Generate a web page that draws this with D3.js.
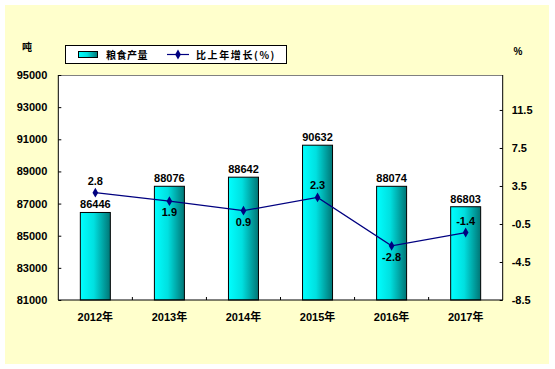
<!DOCTYPE html>
<html><head><meta charset="utf-8">
<script src="https://cdn.jsdelivr.net/npm/d3@7"></script>
<style>body{margin:0;background:#fff}svg{display:block}</style>
</head><body>
<script>
const categories = ["2012年","2013年","2014年","2015年","2016年","2017年"];
const output = [86446, 88076, 88642, 90632, 88074, 86803];
const growth = [2.8, 1.9, 0.9, 2.3, -2.8, -1.4];
const growthLabelPos = ["above","below","below","above","below","above"];
const leftTicks = [81000, 83000, 85000, 87000, 89000, 91000, 93000, 95000];
const rightTicks = [-8.5, -4.5, -0.5, 3.5, 7.5, 11.5];
const seriesNames = ["粮食产量", "比上年增长(%)"];
const leftUnit = "吨", rightUnit = "%";

const W = 555, H = 369;
const svg = d3.select("body").append("svg").attr("width", W).attr("height", H);
const font = "'Liberation Sans', Arial, 'Noto Sans CJK SC', sans-serif";
const cjk = "'Noto Sans CJK SC', sans-serif";

svg.append("rect").attr("x",5).attr("y",5).attr("width",544).attr("height",359).attr("fill","#FFFFCC");

const pl = 58.3, pr = 502.7, pt = 75, pb = 300;
svg.append("rect").attr("x",pl).attr("y",pt).attr("width",pr-pl).attr("height",pb-pt).attr("fill","#fff");
svg.append("line").attr("x1",pl).attr("x2",pr).attr("y1",pt+0.5).attr("y2",pt+0.5).attr("stroke","#808080");

const x = d3.scaleBand().domain(categories).range([pl, pr]).paddingInner(0).paddingOuter(0);
const yL = d3.scaleLinear().domain([81000, 95000]).range([pb, pt]);
const yR = d3.scaleLinear().domain([-8.5, 15.18]).range([pb, pt]);

const defs = svg.append("defs");
const g = defs.append("linearGradient").attr("id","barg").attr("x1","0").attr("x2","1").attr("y1","0").attr("y2","0");
g.append("stop").attr("offset","0").attr("stop-color","#00FFFF");
g.append("stop").attr("offset","0.45").attr("stop-color","#00E0E0");
g.append("stop").attr("offset","1").attr("stop-color","#007575");

const bw = 30;
svg.selectAll(".bar").data(output).join("rect")
  .attr("x",(d,i)=>x(categories[i]) + x.bandwidth()/2 - bw/2)
  .attr("y",d=>yL(d)).attr("width",bw).attr("height",d=>pb-yL(d))
  .attr("fill","url(#barg)").attr("stroke","#000").attr("stroke-width",1);

// axes
const axL = d3.axisLeft(yL).tickValues(leftTicks).tickSize(-3).tickPadding(11).tickFormat(d3.format("d"));
const gL = svg.append("g").attr("transform",`translate(${pl},0)`).call(axL);
const axR = d3.axisRight(yR).tickValues(rightTicks).tickSize(-3).tickPadding(9).tickFormat(d=>d.toFixed(1));
const gR = svg.append("g").attr("transform",`translate(${pr},0)`).call(axR);
const axB = d3.axisBottom(x).tickValues([]).tickSize(0);
const gB = svg.append("g").attr("transform",`translate(0,${pb})`).call(axB);
[gL,gR,gB].forEach(a=>{a.select(".domain").attr("stroke","#000");a.selectAll(".tick line").attr("stroke","#000");
  a.selectAll("text").attr("font-family",font).attr("font-size",11).attr("font-weight","bold").attr("fill","#000");});
gL.select(".domain").attr("d",`M0,${pt}V${pb}`);
gR.select(".domain").attr("d",`M0,${pt}V${pb}`);
gB.select(".domain").attr("d",`M${pl},0H${pr}`);
// category ticks inside
svg.selectAll(".ct").data(categories.slice(1)).join("line")
  .attr("x1",d=>x(d)).attr("x2",d=>x(d)).attr("y1",pb).attr("y2",pb-3).attr("stroke","#000");
svg.selectAll(".cl").data(categories).join("text")
  .attr("x",d=>x(d)+x.bandwidth()/2).attr("y",321).attr("text-anchor","middle")
  .attr("font-family",font).attr("font-size",11).attr("font-weight","bold").text(d=>d);

// line
const cx = i => x(categories[i]) + x.bandwidth()/2;
svg.append("path").datum(growth)
  .attr("d", d3.line().x((d,i)=>cx(i)).y(d=>yR(d)))
  .attr("fill","none").attr("stroke","#000080").attr("stroke-width",1.2);
const diamond = d3.symbol().type(d3.symbolDiamond).size(28);
svg.selectAll(".mk").data(growth).join("path")
  .attr("transform",(d,i)=>`translate(${cx(i)},${yR(d)})`).attr("d",diamond).attr("fill","#000080");

// labels
svg.selectAll(".bl").data(output).join("text")
  .attr("x",(d,i)=>cx(i)).attr("y",d=>yL(d)-4).attr("text-anchor","middle")
  .attr("font-family",font).attr("font-size",11).attr("font-weight","bold").text(d=>d);
svg.selectAll(".gl").data(growth).join("text")
  .attr("x",(d,i)=>cx(i)).attr("y",(d,i)=>yR(d) + (growthLabelPos[i]==="above" ? -8 : 15)).attr("text-anchor","middle")
  .attr("font-family",font).attr("font-size",11).attr("font-weight","bold").text(d=>d.toFixed(1));

// units
svg.append("text").attr("x",27).attr("y",51).attr("text-anchor","middle").attr("font-family",cjk).attr("font-size",10).attr("font-weight","bold").text(leftUnit);
svg.append("text").attr("x",518).attr("y",55).attr("text-anchor","middle").attr("font-family",font).attr("font-size",10).attr("font-weight","bold").text(rightUnit);

// legend
const lg = svg.append("g");
lg.append("rect").attr("x",65.5).attr("y",45.5).attr("width",221).attr("height",18).attr("fill","#fff").attr("stroke","#000");
lg.append("rect").attr("x",78.5).attr("y",51.5).attr("width",19).attr("height",6).attr("fill","url(#barg)").attr("stroke","#000");
lg.append("text").attr("x",106).attr("y",58.5).attr("font-family",cjk).attr("font-size",10).attr("font-weight","bold").attr("letter-spacing",0.5).text(seriesNames[0]);
lg.append("line").attr("x1",167).attr("x2",189).attr("y1",54.5).attr("y2",54.5).attr("stroke","#000080").attr("stroke-width",1.2);
lg.append("path").attr("transform","translate(178,54.5)").attr("d",diamond).attr("fill","#000080");
lg.append("text").attr("x",196).attr("y",58.5).attr("font-family",cjk).attr("font-size",10).attr("font-weight","bold").attr("letter-spacing",1.6).text(seriesNames[1]);
</script>
</body></html>
